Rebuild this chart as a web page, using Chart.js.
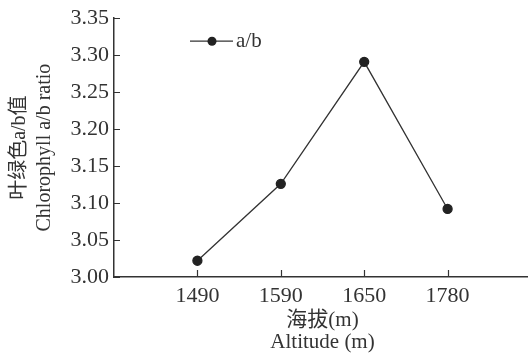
<!DOCTYPE html>
<html>
<head>
<meta charset="utf-8">
<script src="https://cdn.jsdelivr.net/npm/chart.js@4/dist/chart.umd.min.js"></script>
<style>
  html, body { margin: 0; padding: 0; background: #fff; overflow: hidden; }
  #wrap { width: 537px; height: 354px; }
</style>
</head>
<body>
<div id="wrap"><canvas id="chart" width="537" height="354"></canvas></div>
<script>
// data
const altitudes = ['1490', '1590', '1650', '1780'];
const abRatio = [3.022, 3.126, 3.291, 3.092];
const yTicks = [3.00, 3.05, 3.10, 3.15, 3.20, 3.25, 3.30, 3.35];
const seriesName = 'a/b';

const serif = "'Liberation Serif', 'Noto Sans CJK SC', serif";
const ink = '#333';

// empty slots either side so the points sit inside the axis
const labels = [''].concat(altitudes, ['']);
const values = [null].concat(abRatio, [null]);

// tick marks pointing into the plot, plus the little legend
const innerTicks = {
  id: 'innerTicks',
  afterDatasetsDraw(chart) {
    const { ctx, chartArea, scales } = chart;
    ctx.save();
    ctx.strokeStyle = ink;
    ctx.lineWidth = 1.2;
    ctx.beginPath();
    yTicks.forEach(v => {
      const y = Math.round(scales.y.getPixelForValue(v)) + 0.5;
      ctx.moveTo(chartArea.left, y);
      ctx.lineTo(chartArea.left + 6, y);
    });
    labels.forEach((l, i) => {
      if (!l) return;
      const x = Math.round(scales.x.getPixelForValue(i)) + 0.5;
      ctx.moveTo(x, chartArea.bottom);
      ctx.lineTo(x, chartArea.bottom - 7);
    });
    ctx.stroke();

    // legend
    const lx = chartArea.left + 76;
    const ly = chartArea.top + 23;
    ctx.lineWidth = 1.2;
    ctx.beginPath();
    ctx.moveTo(lx, ly);
    ctx.lineTo(lx + 43, ly);
    ctx.stroke();
    ctx.fillStyle = '#222';
    ctx.beginPath();
    ctx.arc(lx + 22, ly, 4.5, 0, Math.PI * 2);
    ctx.fill();
    ctx.fillStyle = ink;
    ctx.font = '21px ' + serif;
    ctx.textBaseline = 'middle';
    ctx.fillText(seriesName, lx + 46, ly);
    ctx.restore();
  }
};

new Chart(document.getElementById('chart'), {
  type: 'line',
  data: {
    labels: labels,
    datasets: [{
      label: seriesName,
      data: values,
      borderColor: ink,
      borderWidth: 1.3,
      pointRadius: 4.5,
      pointBackgroundColor: '#222',
      pointBorderColor: '#222',
      tension: 0
    }]
  },
  options: {
    responsive: false,
    animation: false,
    layout: { padding: { top: 16, right: 0, bottom: 0, left: 0 } },
    plugins: {
      legend: { display: false },
      tooltip: { enabled: false }
    },
    scales: {
      x: {
        type: 'category',
        offset: false,
        grid: { display: false, drawTicks: false },
        border: { color: ink, width: 1.5 },
        ticks: {
          color: ink,
          padding: 6,
          autoSkip: false,
          maxRotation: 0,
          font: { family: serif, size: 22 }
        },
        title: {
          display: true,
          text: ['海拔(m)', 'Altitude (m)'],
          color: ink,
          padding: { top: 0, bottom: 1 },
          font: { family: serif, size: 21, lineHeight: '22px' }
        },
        afterFit(scale) { scale.height = 77; }
      },
      y: {
        min: 3.0,
        max: 3.35,
        grid: { display: false, drawTicks: false },
        border: { color: ink, width: 1.5 },
        ticks: {
          stepSize: 0.05,
          color: ink,
          padding: 5,
          font: { family: serif, size: 22 },
          callback: v => v.toFixed(2)
        },
        title: {
          display: true,
          text: ['叶绿色a/b值', 'Chlorophyll a/b ratio'],
          color: ink,
          padding: { top: 7, bottom: 0 },
          font: { family: serif, size: 20, lineHeight: '25px' }
        },
        afterFit(scale) { scale.width = 114; }
      }
    }
  },
  plugins: [innerTicks]
});
</script>
</body>
</html>
